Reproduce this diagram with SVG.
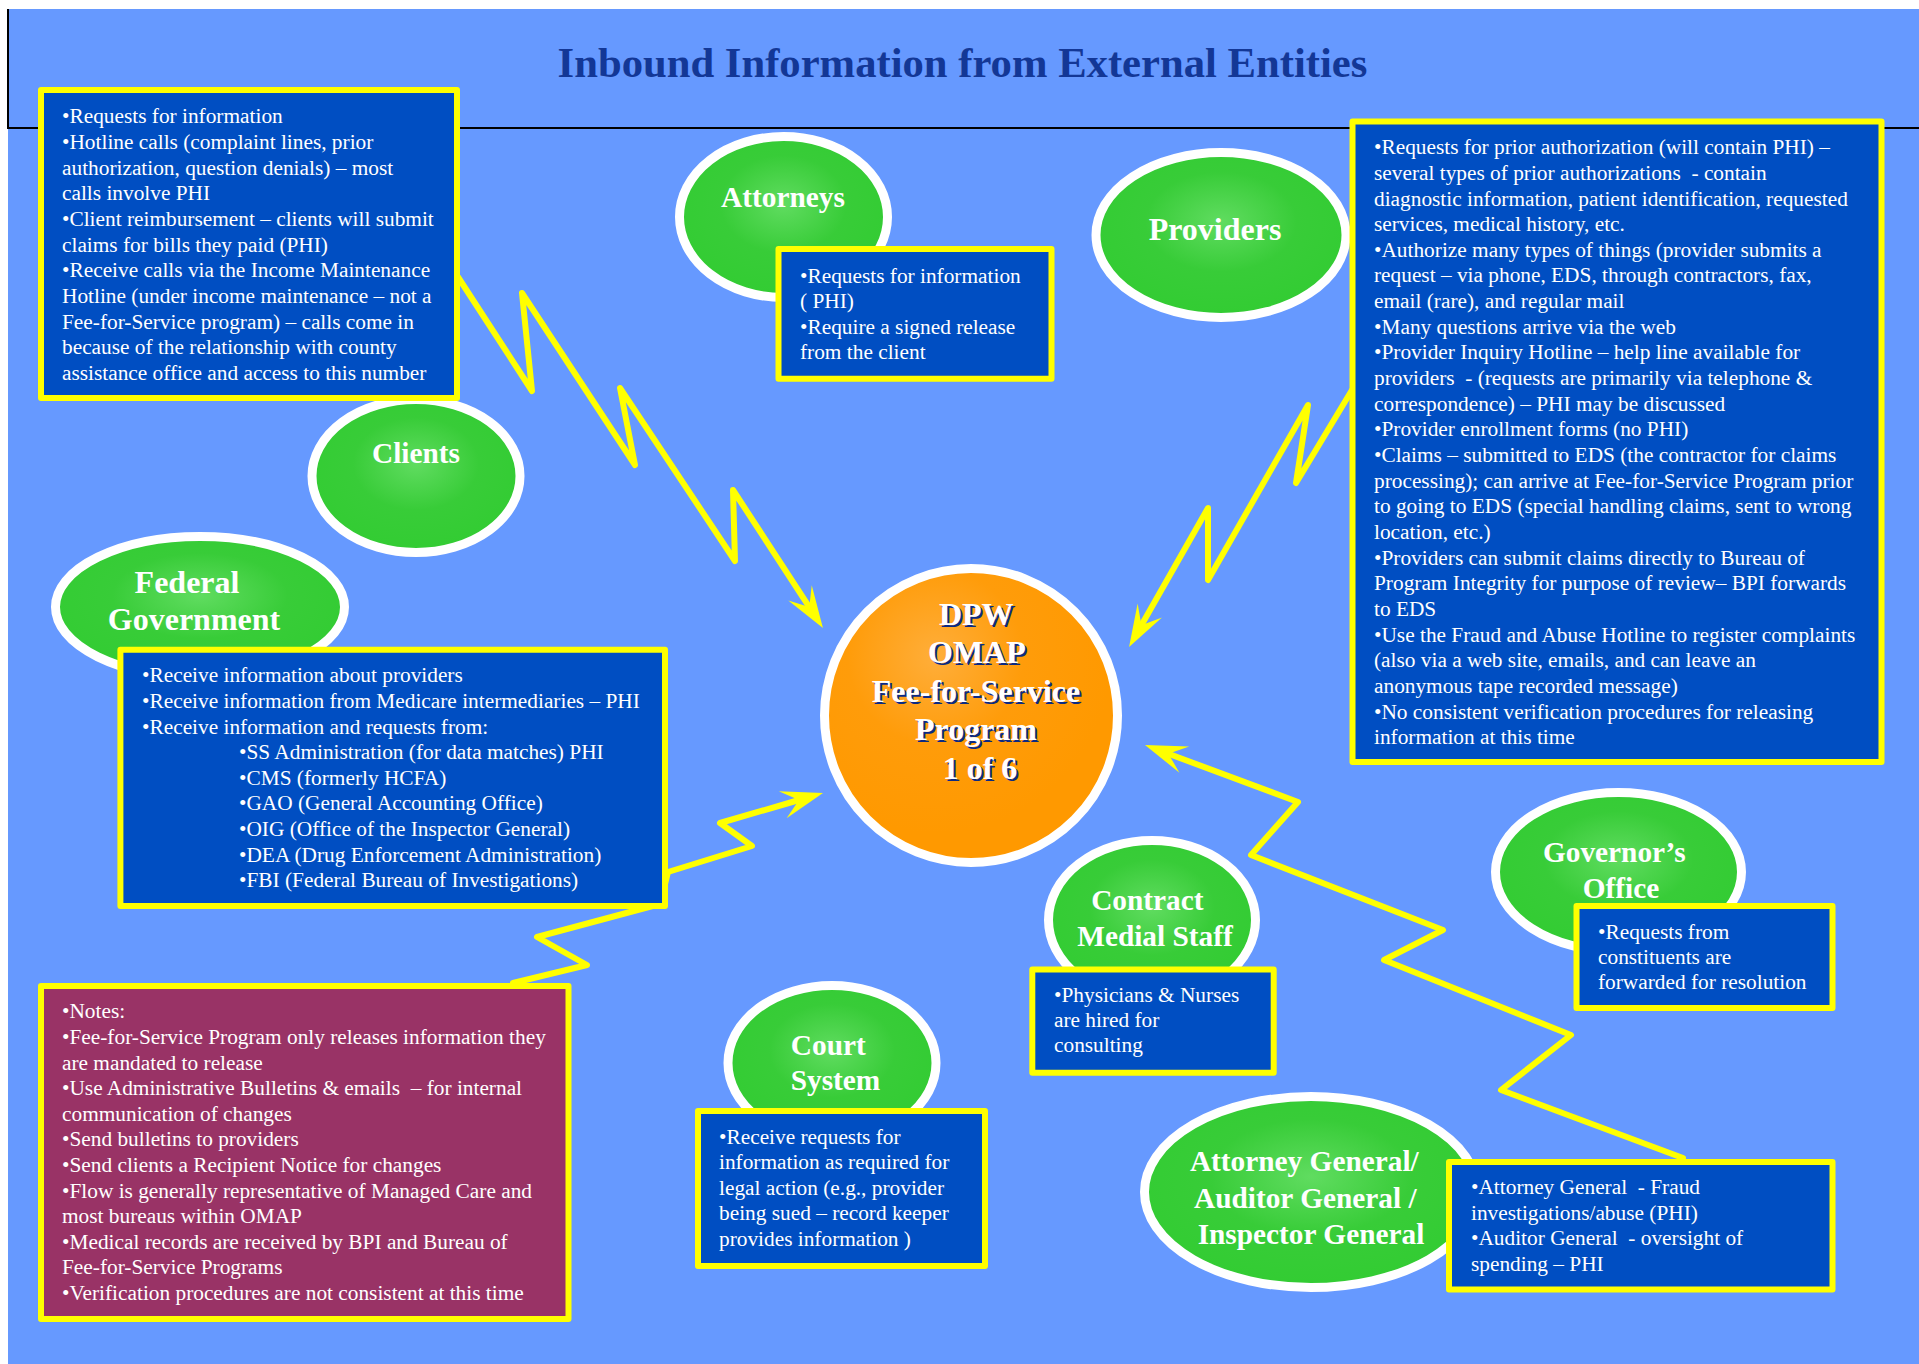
<svg xmlns="http://www.w3.org/2000/svg" width="1919" height="1364" viewBox="0 0 1919 1364">
<defs>
<style>
.bg{fill:#6699FF}
.frame{stroke:#000;stroke-width:2;fill:none}
.title{font-family:"Liberation Serif","Times New Roman",serif;font-weight:bold;font-size:42.67px;fill:#133796;text-anchor:middle}
.ent{fill:url(#gGreen);stroke:#FFFFFF;stroke-width:9}
.hub{fill:url(#gOrange);stroke:#FFFFFF;stroke-width:9}
.box{fill:#004EC2;stroke:#FFFF00;stroke-width:6;stroke-linejoin:round}
.notes{fill:#993366;stroke:#FFFF00;stroke-width:6;stroke-linejoin:round}
.t{font-family:"Liberation Serif","Times New Roman",serif;font-size:21.33px;fill:#FFFFFF;white-space:pre}
.lbl{font-family:"Liberation Serif","Times New Roman",serif;font-weight:bold;font-size:29.33px;fill:#FFFFFF;text-anchor:middle}
.big{font-size:32px}
.hubt{font-family:"Liberation Serif","Times New Roman",serif;font-weight:bold;font-size:32px;text-anchor:middle}
.conn{fill:none;stroke:#FFFF00;stroke-width:6;stroke-linejoin:round;stroke-linecap:round;marker-end:url(#ah)}
</style>
<radialGradient id="gGreen" cx="0.5" cy="0.42" r="0.55">
<stop offset="0" stop-color="#60DC60"/>
<stop offset="0.55" stop-color="#38CC38"/>
<stop offset="1" stop-color="#33CC33"/>
</radialGradient>
<radialGradient id="gOrange" cx="0.38" cy="0.3" r="0.6">
<stop offset="0" stop-color="#FFAE3A"/>
<stop offset="0.5" stop-color="#FF9C0A"/>
<stop offset="1" stop-color="#FF9900"/>
</radialGradient>
<marker id="ah" markerUnits="userSpaceOnUse" viewBox="-20 -16 48 32" refX="0" refY="0" markerWidth="48" markerHeight="32" orient="auto">
<path d="M25,0 L-17,-14 L0,0 L-17,14 Z" fill="#FFFF00"/>
</marker>
</defs>

<rect x="0" y="0" width="1919" height="1364" fill="#FFFFFF"/>
<rect class="bg" x="8" y="9" width="1911" height="1355"/>
<path class="frame" d="M8,9 V128 H1919"/>
<text class="title" x="962.5" y="77">Inbound Information from External Entities</text>

<g id="connectors">
<path class="conn" d="M458,277 L532,391 L522,293 L635,465 L620,388 L735,561 L733,490 L809.3,607.1"/>
<path class="conn" d="M1352,390 L1296,483 L1308,405 L1208,580 L1208,508 L1141.4,625.3"/>
<path class="conn" d="M513,983 L587,965 L537,937 L660,904 L668,872 L752,846 L720,823 L799,800"/>
<path class="conn" d="M1683,1158 L1501,1090 L1571,1035 L1384,960 L1443,930 L1251,855 L1298,802 L1168.4,753.7"/>
</g>

<g id="hub">
<ellipse class="hub" cx="971" cy="715.5" rx="146.5" ry="147"/>
<text class="hubt" fill="#0B2A84">
<tspan x="982" y="627">DPW</tspan>
<tspan x="982" y="665.4">OMAP</tspan>
<tspan x="982" y="703.8">Fee-for-Service</tspan>
<tspan x="982" y="742.2">Program</tspan>
<tspan x="982" y="780.6">1 of 6</tspan>
</text>
<text class="hubt" fill="#FFFFFF">
<tspan x="980" y="625">DPW</tspan>
<tspan x="980" y="663.4">OMAP</tspan>
<tspan x="980" y="701.8">Fee-for-Service</tspan>
<tspan x="980" y="740.2">Program</tspan>
<tspan x="980" y="778.6">1 of 6</tspan>
</text>
</g>

<g id="clients">
<ellipse class="ent" cx="416" cy="476" rx="104" ry="76.5"/>
<text class="lbl" x="416" y="463">Clients</text>
<rect class="box" x="41" y="90" width="416" height="308"/>
<text class="t">
<tspan x="62" y="123.3">•Requests for information</tspan>
<tspan x="62" y="149">•Hotline calls (complaint lines, prior</tspan>
<tspan x="62" y="174.6">authorization, question denials) – most</tspan>
<tspan x="62" y="200.3">calls involve PHI</tspan>
<tspan x="62" y="226">•Client reimbursement – clients will submit</tspan>
<tspan x="62" y="251.6">claims for bills they paid (PHI)</tspan>
<tspan x="62" y="277.3">•Receive calls via the Income Maintenance</tspan>
<tspan x="62" y="303">Hotline (under income maintenance – not a</tspan>
<tspan x="62" y="328.6">Fee-for-Service program) – calls come in</tspan>
<tspan x="62" y="354.3">because of the relationship with county</tspan>
<tspan x="62" y="380">assistance office and access to this number</tspan>
</text>
</g>

<g id="attorneys">
<ellipse class="ent" cx="783.5" cy="217" rx="104" ry="80.5"/>
<text class="lbl" x="783" y="207">Attorneys</text>
<rect class="box" x="778.5" y="249" width="273" height="129.7"/>
<text class="t">
<tspan x="800" y="283">•Requests for information</tspan>
<tspan x="800" y="308.3">( PHI)</tspan>
<tspan x="800" y="333.6">•Require a signed release</tspan>
<tspan x="800" y="359">from the client</tspan>
</text>
</g>

<g id="providers">
<ellipse class="ent" cx="1221" cy="235" rx="125" ry="82.5"/>
<text class="lbl big" x="1215" y="240">Providers</text>
<rect class="box" x="1352.5" y="121.4" width="529" height="640.6"/>
<text class="t">
<tspan x="1374" y="154.2">•Requests for prior authorization (will contain PHI) –</tspan>
<tspan x="1374" y="179.85">several types of prior authorizations  - contain</tspan>
<tspan x="1374" y="205.5">diagnostic information, patient identification, requested</tspan>
<tspan x="1374" y="231.15">services, medical history, etc.</tspan>
<tspan x="1374" y="256.8">•Authorize many types of things (provider submits a</tspan>
<tspan x="1374" y="282.45">request – via phone, EDS, through contractors, fax,</tspan>
<tspan x="1374" y="308.1">email (rare), and regular mail</tspan>
<tspan x="1374" y="333.75">•Many questions arrive via the web</tspan>
<tspan x="1374" y="359.4">•Provider Inquiry Hotline – help line available for</tspan>
<tspan x="1374" y="385.05">providers  - (requests are primarily via telephone &amp;</tspan>
<tspan x="1374" y="410.7">correspondence) – PHI may be discussed</tspan>
<tspan x="1374" y="436.35">•Provider enrollment forms (no PHI)</tspan>
<tspan x="1374" y="462">•Claims – submitted to EDS (the contractor for claims</tspan>
<tspan x="1374" y="487.65">processing); can arrive at Fee-for-Service Program prior</tspan>
<tspan x="1374" y="513.3">to going to EDS (special handling claims, sent to wrong</tspan>
<tspan x="1374" y="538.95">location, etc.)</tspan>
<tspan x="1374" y="564.6">•Providers can submit claims directly to Bureau of</tspan>
<tspan x="1374" y="590.25">Program Integrity for purpose of review– BPI forwards</tspan>
<tspan x="1374" y="615.9">to EDS</tspan>
<tspan x="1374" y="641.55">•Use the Fraud and Abuse Hotline to register complaints</tspan>
<tspan x="1374" y="667.2">(also via a web site, emails, and can leave an</tspan>
<tspan x="1374" y="692.85">anonymous tape recorded message)</tspan>
<tspan x="1374" y="718.5">•No consistent verification procedures for releasing</tspan>
<tspan x="1374" y="744.15">information at this time</tspan>
</text>
</g>

<g id="federal-government">
<ellipse class="ent" cx="200" cy="607" rx="144.5" ry="70.5"/>
<text class="lbl big">
<tspan x="191" y="593">Federal</tspan>
<tspan x="194" y="630">Government</tspan>
</text>
<rect class="box" x="120.4" y="649.7" width="544.6" height="256.3"/>
<text class="t">
<tspan x="142" y="682.4">•Receive information about providers</tspan>
<tspan x="142" y="708">•Receive information from Medicare intermediaries – PHI</tspan>
<tspan x="142" y="733.6">•Receive information and requests from:</tspan>
<tspan x="239" y="759.2">•SS Administration (for data matches) PHI</tspan>
<tspan x="239" y="784.8">•CMS (formerly HCFA)</tspan>
<tspan x="239" y="810.4">•GAO (General Accounting Office)</tspan>
<tspan x="239" y="836">•OIG (Office of the Inspector General)</tspan>
<tspan x="239" y="861.6">•DEA (Drug Enforcement Administration)</tspan>
<tspan x="239" y="887.2">•FBI (Federal Bureau of Investigations)</tspan>
</text>
</g>

<g id="contract-medial-staff">
<ellipse class="ent" cx="1152" cy="920" rx="103.5" ry="79.5"/>
<text class="lbl">
<tspan x="1151" y="910">Contract</tspan>
<tspan x="1155" y="946">Medial Staff</tspan>
</text>
<rect class="box" x="1032.3" y="969.4" width="241.4" height="103.3"/>
<text class="t">
<tspan x="1054" y="1001.5">•Physicians &amp; Nurses</tspan>
<tspan x="1054" y="1026.8">are hired for</tspan>
<tspan x="1054" y="1052.1">consulting</tspan>
</text>
</g>

<g id="governors-office">
<ellipse class="ent" cx="1618.5" cy="872" rx="123" ry="79.5"/>
<text class="lbl">
<tspan x="1618" y="862">Governor’s</tspan>
<tspan x="1621" y="897.5">Office</tspan>
</text>
<rect class="box" x="1576.5" y="906" width="256" height="102"/>
<text class="t">
<tspan x="1598" y="938.5">•Requests from</tspan>
<tspan x="1598" y="963.8">constituents are</tspan>
<tspan x="1598" y="989.1">forwarded for resolution</tspan>
</text>
</g>

<g id="court-system">
<ellipse class="ent" cx="832" cy="1063" rx="104" ry="77.5"/>
<text class="lbl">
<tspan x="832" y="1055">Court</tspan>
<tspan x="835.5" y="1090">System</tspan>
</text>
<rect class="box" x="698" y="1111" width="287" height="155"/>
<text class="t">
<tspan x="719" y="1143.5">•Receive requests for</tspan>
<tspan x="719" y="1169">information as required for</tspan>
<tspan x="719" y="1194.5">legal action (e.g., provider</tspan>
<tspan x="719" y="1220">being sued – record keeper</tspan>
<tspan x="719" y="1245.5">provides information )</tspan>
</text>
</g>

<g id="attorney-general">
<ellipse class="ent" cx="1311" cy="1192" rx="166.5" ry="95.5"/>
<text class="lbl">
<tspan x="1308" y="1171">Attorney General/</tspan>
<tspan x="1309" y="1207.5">Auditor General /</tspan>
<tspan x="1311" y="1244">Inspector General</tspan>
</text>
<rect class="box" x="1449" y="1162" width="383.5" height="127.5"/>
<text class="t">
<tspan x="1471" y="1194">•Attorney General  - Fraud</tspan>
<tspan x="1471" y="1219.6">investigations/abuse (PHI)</tspan>
<tspan x="1471" y="1245.2">•Auditor General  - oversight of</tspan>
<tspan x="1471" y="1270.8">spending – PHI</tspan>
</text>
</g>

<g id="notes">
<rect class="notes" x="41" y="986" width="527.5" height="333"/>
<text class="t">
<tspan x="62" y="1018.3">•Notes:</tspan>
<tspan x="62" y="1043.9">•Fee-for-Service Program only releases information they</tspan>
<tspan x="62" y="1069.5">are mandated to release</tspan>
<tspan x="62" y="1095.1">•Use Administrative Bulletins &amp; emails  – for internal</tspan>
<tspan x="62" y="1120.7">communication of changes</tspan>
<tspan x="62" y="1146.3">•Send bulletins to providers</tspan>
<tspan x="62" y="1171.9">•Send clients a Recipient Notice for changes</tspan>
<tspan x="62" y="1197.5">•Flow is generally representative of Managed Care and</tspan>
<tspan x="62" y="1223.1">most bureaus within OMAP</tspan>
<tspan x="62" y="1248.7">•Medical records are received by BPI and Bureau of</tspan>
<tspan x="62" y="1274.3">Fee-for-Service Programs</tspan>
<tspan x="62" y="1299.9">•Verification procedures are not consistent at this time</tspan>
</text>
</g>
</svg>
